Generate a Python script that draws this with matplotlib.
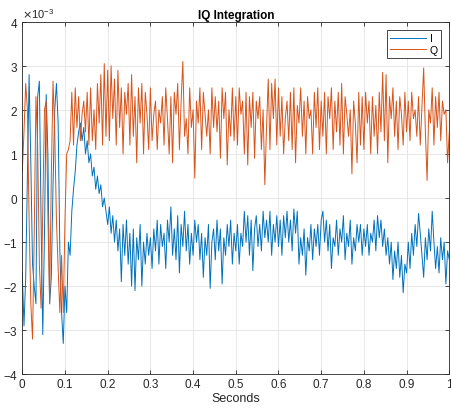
"""IQ integration trace — I and Q channels over one second."""

import matplotlib
matplotlib.use("Agg")
import matplotlib.pyplot as plt
import numpy as np
from matplotlib.ticker import FuncFormatter, ScalarFormatter

plt.rcParams["font.family"] = ["Liberation Sans", "DejaVu Sans"]
plt.rcParams["axes.unicode_minus"] = False

# ── Data (units of 1e-3, one sample every 4 ms) ───────────────────────────────
DT = 0.004

i_vals = [
    # 0.0 - 0.1
    -1.7, -2.9, -1.8, 0.5, 2.8, 0.8, -1.5, -2.0, -2.4, 2.3, 2.65, -0.5, -3.1,
    -0.8, 2.35, 1.0, -2.4, -1.8, 0.3, 2.0, 2.6, 1.7, -1.2, -2.6, -3.3,
    # 0.1 - 0.2
    -2.0, -2.6, -1.0, -1.3, -0.3, 0.2, 0.6, 1.2, 1.5, 1.7, 1.3, 1.6, 1.0,
    1.3, 0.8, 1.0, 0.5, 0.7, 0.2, 0.5, 0.1, 0.3, -0.2, 0.0, -0.3,
    # 0.2 - 0.3
    -0.6, -0.2, -0.8, -0.4, -1.0, -0.5, -1.2, -0.7, -1.9, -0.6, -1.3, -0.5, -1.5,
    -0.8, -2.0, -0.7, -2.1, -0.9, -1.4, -0.6, -2.0, -1.0, -1.5, -0.8, -1.3,
    # 0.3 - 0.4
    -0.9, -1.6, -0.7, -1.2, -0.5, -1.5, -0.6, -1.1, -0.8, -1.6, -0.5, -1.0, -0.2,
    -1.3, -0.7, -1.4, -0.4, -1.7, -0.6, -1.1, -0.3, -1.2, -0.6, -1.5, -0.8,
    # 0.4 - 0.5
    -1.3, -0.5, -1.0, -0.6, -1.4, -0.8, -1.8, -0.9, -1.3, -0.6, -2.05, -1.0, -0.7,
    -1.4, -0.5, -1.2, -0.7, -1.95, -0.9, -1.3, -0.6, -1.1, -0.5, -1.5, -0.8,
    # 0.5 - 0.6
    -1.2, -0.6, -1.5, -0.8, -1.1, -0.3, -1.0, -0.4, -1.3, -0.5, -1.65, -0.7, -0.4,
    -1.1, -0.6, -1.2, -0.3, -0.9, -0.5, -1.0, -0.3, -1.3, -0.6, -1.0, -0.4,
    # 0.6 - 0.7
    -1.1, -0.5, -1.3, -0.4, -0.9, -0.3, -1.0, -0.5, -1.2, -0.25, -0.8, -0.3, -1.5,
    -0.9, -1.3, -0.7, -1.75, -0.9, -1.2, -0.6, -1.4, -0.7, -1.1, -0.6, -1.3,
    # 0.7 - 0.8
    -0.5, -0.3, -1.0, -0.5, -1.2, -0.6, -1.6, -0.9, -1.1, -0.5, -1.3, -0.7, -1.0,
    -0.4, -1.4, -0.8, -1.1, -0.5, -1.5, -0.9, -1.2, -0.6, -1.0, -0.6, -1.3,
    # 0.8 - 0.9
    -0.7, -1.1, -0.6, -1.3, -0.8, -1.0, -0.5, -1.2, -0.4, -0.9, -0.5, -1.1, -0.7,
    -1.3, -0.9, -1.5, -1.0, -1.85, -1.2, -1.6, -1.0, -1.8, -1.3, -2.15, -1.5,
    # 0.9 - 1.0
    -1.7, -1.0, -1.6, -0.8, -1.3, -0.6, -1.1, -0.35, -0.8, -1.3, -1.8, -0.9, -1.4,
    -0.7, -1.2, -0.3, -1.0, -1.6, -1.1, -1.7, -0.9, -1.4, -1.0, -1.95, -1.2,
    -1.4,
]

q_vals = [
    # 0.0 - 0.1
    0.6, 1.5, 2.6, 2.0, -0.5, -2.4, -3.2, -0.8, 2.3, 1.2, -1.5, -2.5, -0.3,
    2.0, 2.2, -0.4, -2.4, 0.5, 2.65, 1.5, -0.5, -1.6, -2.6, -1.3, -2.6,
    # 0.1 - 0.2
    -0.5, 1.0, 1.1, 1.3, 2.4, 1.2, 2.5, 1.6, 2.3, 1.3, 1.9, 2.2, 1.5,
    2.4, 1.2, 2.5, 1.3, 2.0, 1.1, 2.6, 1.7, 2.8, 1.2, 3.05, 1.4,
    # 0.2 - 0.3
    2.9, 1.3, 3.0, 1.8, 2.7, 1.2, 2.9, 1.6, 2.5, 1.0, 2.4, 1.9, 2.6,
    1.2, 2.8, 1.4, 2.3, 0.8, 2.5, 1.7, 2.6, 1.0, 2.4, 1.9, 1.1,
    # 0.3 - 0.4
    2.5, 1.3, 1.9, 2.2, 1.1, 2.0, 1.7, 2.3, 1.2, 2.5, 1.8, 1.0, 2.3,
    0.8, 2.4, 1.9, 2.6, 1.1, 2.2, 3.1, 1.4, 1.8, 1.0, 2.5, 1.6,
    # 0.4 - 0.5
    2.0, 0.45, 2.2, 1.7, 2.5, 1.1, 2.4, 1.9, 1.4, 2.0, 1.0, 2.5, 1.6,
    2.3, 1.5, 2.2, 0.9, 2.5, 1.8, 2.4, 0.75, 2.0, 1.4, 2.5, 1.3,
    # 0.5 - 0.6
    2.3, 1.2, 2.5, 1.9, 2.2, 1.0, 2.4, 0.75, 2.3, 1.6, 2.4, 0.9, 2.2,
    1.8, 2.3, 1.1, 2.0, 0.3, 1.6, 2.7, 1.1, 2.6, 1.8, 2.7, 1.2,
    # 0.6 - 0.7
    2.5, 1.4, 2.3, 1.0, 1.8, 2.2, 1.3, 2.4, 1.1, 2.5, 0.8, 2.1, 1.7,
    2.5, 1.4, 2.2, 1.0, 2.3, 1.8, 2.0, 1.0, 2.4, 1.6, 2.5, 1.1,
    # 0.7 - 0.8
    2.2, 1.4, 2.4, 1.0, 2.3, 1.8, 2.5, 1.1, 2.2, 1.5, 2.4, 1.2, 2.6,
    1.0, 2.3, 1.9, 1.4, 2.0, 0.55, 2.2, 1.7, 0.8, 2.4, 1.2, 2.3,
    # 0.8 - 0.9
    1.1, 2.4, 1.7, 2.2, 1.0, 2.3, 1.4, 2.1, 1.0, 2.4, 1.5, 2.85, 1.3,
    2.8, 0.8, 2.3, 1.8, 2.5, 1.4, 2.2, 1.1, 2.3, 1.9, 1.2, 2.4,
    # 0.9 - 1.0
    1.5, 2.2, 1.3, 2.4, 1.8, 2.0, 1.4, 2.3, 1.2, 2.1, 2.95, 1.5, 0.4,
    2.0, 1.7, 2.5, 1.2, 2.3, 1.6, 2.4, 1.3, 2.2, 1.9, 2.0, 0.8,
    1.5,
]

t = np.arange(len(i_vals)) * DT
i_sig = np.array(i_vals) * 1e-3
q_sig = np.array(q_vals) * 1e-3

# ── Plot ──────────────────────────────────────────────────────────────────────
fig = plt.figure(figsize=(4.51, 4.10), dpi=100)
ax = fig.add_axes([0.0494, 0.0846, 0.9468, 0.86])

ax.plot(t, i_sig, color="#0072BD", linewidth=0.7, label="I")
ax.plot(t, q_sig, color="#D95319", linewidth=0.7, label="Q")

ax.set_xlim(0, 1)
ax.set_ylim(-4e-3, 4e-3)
ax.set_xticks(np.arange(0, 1.01, 0.1))
ax.set_yticks(np.arange(-4e-3, 4.01e-3, 1e-3))
ax.xaxis.set_major_formatter(FuncFormatter(lambda v, _: f"{v:g}"))
fmt = ScalarFormatter(useMathText=True)
fmt.set_powerlimits((-3, -3))
ax.yaxis.set_major_formatter(fmt)
ax.yaxis.get_offset_text().set_fontsize(8)
ax.yaxis.get_offset_text().set_color("#555555")

ax.grid(True, color="#E3E3E3", linewidth=0.6)
ax.set_axisbelow(True)
ax.tick_params(direction="in", length=3, width=0.6, labelsize=8.5,
               colors="#262626", top=True, right=True, pad=3)
for s in ax.spines.values():
    s.set_color("#262626")
    s.set_linewidth(0.6)

ax.set_title("IQ Integration", fontsize=8.5, fontweight="bold", pad=3)
ax.set_xlabel("Seconds", fontsize=9, labelpad=1, color="#262626")

leg = ax.legend(loc="upper right", fontsize=7.5, handlelength=3.4,
                fancybox=False, framealpha=1, edgecolor="#262626",
                borderpad=0.3, labelspacing=0.15, handletextpad=0.4,
                borderaxespad=0.8)
leg.get_frame().set_linewidth(0.6)

plt.savefig("out.png", dpi=100)
